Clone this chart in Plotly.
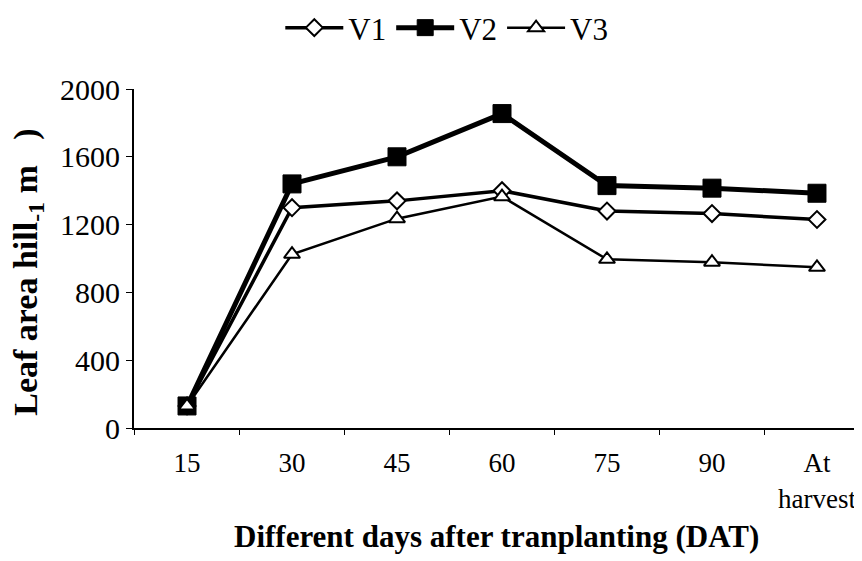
import plotly.graph_objects as go

categories = ["15", "30", "45", "60", "75", "90", "At<br>harvest"]
v1 = [130, 1300, 1340, 1400, 1280, 1265, 1230]
v2 = [130, 1440, 1600, 1855, 1430, 1415, 1385]
v3 = [130, 1025, 1235, 1365, 995, 978, 948]
y_ticks = [0, 400, 800, 1200, 1600, 2000]

FONT = "Liberation Serif"

fig = go.Figure()
fig.add_trace(go.Scatter(
    x=categories, y=v1, name="V1", mode="lines+markers",
    line=dict(color="black", width=3.5),
    marker=dict(symbol="diamond", size=13, color="white", line=dict(color="black", width=2)),
))
fig.add_trace(go.Scatter(
    x=categories, y=v2, name="V2", mode="lines+markers",
    line=dict(color="black", width=5),
    marker=dict(symbol="square", size=18, color="black", line=dict(color="black", width=1)),
))
fig.add_trace(go.Scatter(
    x=categories, y=v3, name="V3", mode="lines+markers",
    line=dict(color="black", width=2.5),
    marker=dict(symbol="triangle-up", size=14, color="white", line=dict(color="black", width=2)),
))

fig.update_layout(
    width=862, height=561,
    paper_bgcolor="white", plot_bgcolor="white",
    margin=dict(l=126, r=0, t=81, b=141, autoexpand=False),
    font=dict(family=FONT, size=28, color="black"),
    showlegend=True,
    legend=dict(orientation="h", x=0.425, xanchor="center", y=1.18, yanchor="middle",
                font=dict(family=FONT, size=31), itemwidth=58, bgcolor="rgba(0,0,0,0)"),
    xaxis=dict(
        type="category", range=[-0.505, 6.505],
        showline=True, linecolor="black", linewidth=2,
        ticks="outside", ticklen=5, tickcolor="black", tickson="boundaries",
        ticklabelstandoff=10,
        showgrid=False, zeroline=False,
        tickfont=dict(family=FONT, size=27),
    ),
    yaxis=dict(
        range=[0, 2000], tickvals=y_ticks,
        showline=True, linecolor="black", linewidth=2,
        ticks="outside", ticklen=6, tickcolor="black",
        showgrid=False, zeroline=False,
        tickfont=dict(family=FONT, size=30),
    ),
    annotations=[
        dict(text="<b>Different days after tranplanting (DAT)</b>",
             xref="paper", yref="paper", x=0.493, y=-0.3215,
             xanchor="center", yanchor="middle", showarrow=False,
             font=dict(family=FONT, size=31)),
        dict(text="<b>Leaf area hill<sub>-1</sub> m   )</b>",
             xref="paper", yref="paper", x=-0.144, y=0.458,
             xanchor="center", yanchor="middle", textangle=-90, showarrow=False,
             font=dict(family=FONT, size=34)),
    ],
)

fig.write_html("out.html")
